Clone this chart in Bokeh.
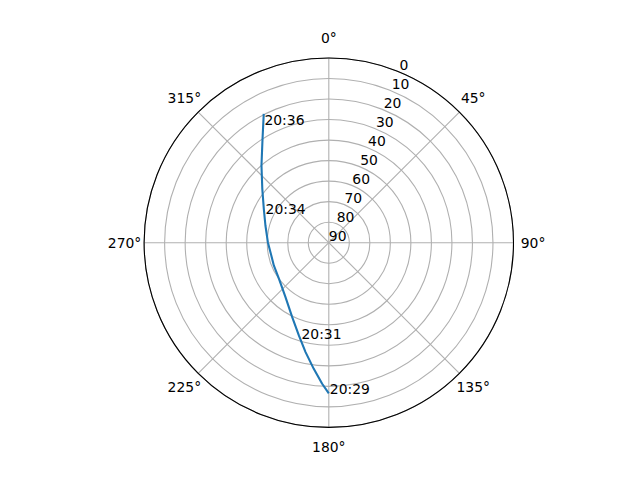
import numpy as np
from bokeh.plotting import figure
from bokeh.models import Range1d
from bokeh.core.properties import value
from bokeh.embed import file_html
from bokeh.resources import INLINE

# ---- data ----
azimuth = [180.0, 182.7, 186.8, 192.0, 197.9, 206.2, 218.5, 234.0, 247.5,
           257.5, 270.5, 285.2, 297.5, 309.0, 318.9, 327.5, 333.2]
elevation = [16.6, 21.2, 28.1, 35.5, 42.5, 49.6, 56.1, 60.0, 61.0,
             61.3, 60.3, 58.0, 54.3, 48.3, 40.1, 29.9, 19.7]

label_times = ["20:29", "20:31", "20:34", "20:36"]
label_az = [180.0, 196.6, 294.9, 331.2]
label_el = [16.6, 41.7, 55.5, 23.9]

theta_ticks = [0, 45, 90, 135, 180, 225, 270, 315]
theta_labels = ["0°", "45°", "90°", "135°", "180°", "225°", "270°", "315°"]
r_ticks = [0, 10, 20, 30, 40, 50, 60, 70, 80, 90]
r_labels = ["0", "10", "20", "30", "40", "50", "60", "70", "80", "90"]
r_label_angle = 22.5
R_MAX = 90.0

FONT = "DejaVu Sans"
FS = "13.9px"
GRID = "#b0b0b0"
BLUE = "#1f77b4"


def to_xy(az, el):
    az = np.radians(np.asarray(az, dtype=float))
    r = R_MAX - np.asarray(el, dtype=float)
    return r * np.sin(az), r * np.cos(az)


W, H = 624, 464
k = 184.7 / R_MAX           # pixels per unit
cx, cy = 328.3, 242.2       # center in canvas pixels

p = figure(width=W, height=H, output_backend="svg", toolbar_location=None,
           x_range=Range1d(-cx / k, (W - cx) / k),
           y_range=Range1d(-(H - cy) / k, cy / k),
           min_border=0)
p.axis.visible = False
p.grid.visible = False
p.outline_line_color = None
p.background_fill_color = "white"
p.border_fill_color = "white"

# ring gridlines (elevation ticks)
ring_r = [R_MAX - e for e in r_ticks if R_MAX - e > 0]
p.circle(x=[0] * len(ring_r), y=[0] * len(ring_r), radius=ring_r,
         fill_color=None, line_color=GRID, line_width=1.1)

# spokes
tt = np.radians(theta_ticks)
xs = [[0, R_MAX * np.sin(t)] for t in tt]
ys = [[0, R_MAX * np.cos(t)] for t in tt]
p.multi_line(xs=xs, ys=ys, line_color=GRID, line_width=1.1)

# outer spine
p.circle(x=[0], y=[0], radius=[R_MAX], fill_color=None,
         line_color="black", line_width=1.1)

# track
tx, ty = to_xy(azimuth, elevation)
p.line(tx, ty, line_color=BLUE, line_width=2.1)

# time labels
lx, ly = to_xy(label_az, label_el)
p.text(x=lx, y=ly, text=label_times, text_font=value(FONT),
       text_font_size=FS, text_align="left", text_baseline="alphabetic",
       x_offset=1, y_offset=-4, text_color="black")

# theta labels
lr = R_MAX * 1.106
p.text(x=[lr * np.sin(t) for t in tt], y=[lr * np.cos(t) for t in tt],
       text=theta_labels, text_font=value(FONT), text_font_size=FS,
       text_align="center", text_baseline="middle", text_color="black")

# radial labels
ra = np.radians(r_label_angle)
rr = [R_MAX - e for e in r_ticks]
p.text(x=[r * np.sin(ra) for r in rr], y=[r * np.cos(ra) for r in rr],
       text=r_labels, text_font=value(FONT), text_font_size=FS,
       text_align="left", text_baseline="alphabetic",
       x_offset=0, y_offset=-7, text_color="black")

open("out.html", "w").write(file_html(p, INLINE))
